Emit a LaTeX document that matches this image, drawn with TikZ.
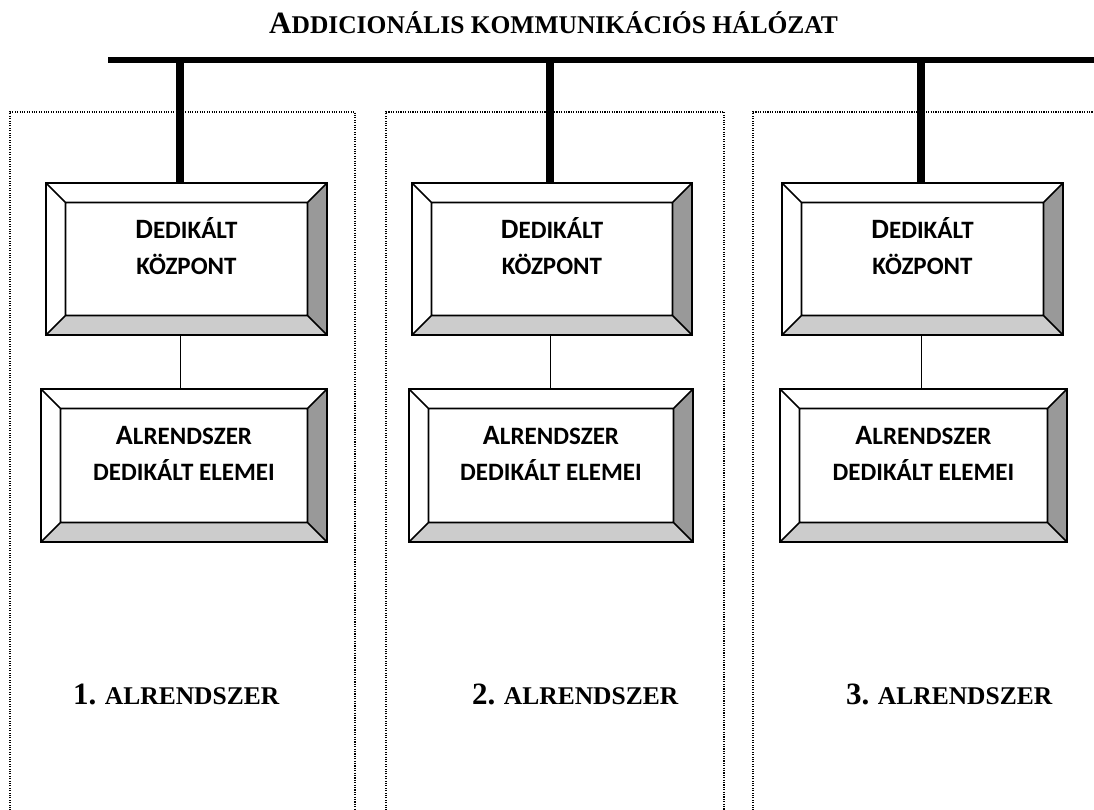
\documentclass[tikz,border=0pt]{standalone}
\usepackage{fontspec}
\setmainfont{Liberation Serif}
\newfontfamily\boxfont{Carlito}
\usetikzlibrary{calc}

% fake small capitals: first letter at full size, the rest smaller
\newcommand{\capsC}[2]{{\boxfont\bfseries\fontsize{28}{30}\selectfont #1\fontsize{25}{30}\selectfont #2}}
\newcommand{\smallC}[1]{{\boxfont\bfseries\fontsize{25}{30}\selectfont #1}}
\newcommand{\capsT}[2]{{\bfseries\fontsize{31}{33}\selectfont #1\fontsize{25.5}{30}\selectfont #2}}

\newlength{\bw}
\setlength{\bw}{19.5pt}

% bevelled box: name, left, top, right, bottom (pixel-like units, y downwards)
\newcommand{\bevelbox}[5]{%
  \node[boxbody, minimum width={(#4-#2)*1pt}, minimum height={(#5-#3)*1pt}]
    (#1) at ({(#2+#4)/2},{(#3+#5)/2}) {};
  \coordinate (#1-inw) at ([xshift=\bw,yshift=-\bw]#1.north west);
  \coordinate (#1-ine) at ([xshift=-\bw,yshift=-\bw]#1.north east);
  \coordinate (#1-ise) at ([xshift=-\bw,yshift=\bw]#1.south east);
  \coordinate (#1-isw) at ([xshift=\bw,yshift=\bw]#1.south west);
  \fill[white] (#1.north west) rectangle (#1.south east);
  \fill[bevelright] (#1.north east) -- (#1.south east) -- (#1-ise) -- (#1-ine) -- cycle;
  \fill[bevelbottom] (#1.south east) -- (#1.south west) -- (#1-isw) -- (#1-ise) -- cycle;
  \draw[bevelline] (#1.north west) rectangle (#1.south east)
    (#1-inw) rectangle (#1-ise)
    (#1.north west) -- (#1-inw) (#1.north east) -- (#1-ine)
    (#1.south east) -- (#1-ise) (#1.south west) -- (#1-isw);
}

\tikzset{
  boxbody/.style={rectangle, draw=none, inner sep=0pt, outer sep=0pt},
  bevelright/.style={fill=black!40},
  bevelbottom/.style={fill=black!20},
  bevelline/.style={draw=black, line width=1.6pt, line join=miter},
  frame/.style={draw=black, line width=1.5pt, dash pattern=on 1.1pt off 1.3pt},
  bus/.style={draw=black, line width=6pt},
  drop/.style={draw=black, line width=7.5pt},
  link/.style={draw=black, line width=1pt},
  txt/.style={inner sep=0pt, anchor=base},
  lbl/.style={inner sep=0pt, anchor=base west},
}

\begin{document}
\begin{tikzpicture}[x=1pt, y=-1pt]
  \useasboundingbox (0,0) rectangle (1094,809);
  \clip (0,0) rectangle (1094,809);

  % dotted frames of the three subsystems
  \draw[frame] (10,820) -- (10,112) -- (355,112) -- (355,820);
  \draw[frame] (386,820) -- (386,112) -- (724,112) -- (724,820);
  \draw[frame] (753,820) -- (753,112) -- (1100,112);

  % title
  \node[lbl] (title) at (269,33) {\capsT{A}{DDICIONÁLIS KOMMUNIKÁCIÓS HÁLÓZAT}};

  % communication bus
  \coordinate (busL) at (108,60);
  \coordinate (busR) at (1094,60);
  \draw[bus] (busL) -- (busR);
  \coordinate (tap1) at (180,60);
  \coordinate (tap2) at (550,60);
  \coordinate (tap3) at (921,60);

  % boxes
  \bevelbox{c1}{46}{183}{327}{335}
  \bevelbox{e1}{41}{389}{327}{542}
  \bevelbox{c2}{412}{183}{692}{335}
  \bevelbox{e2}{409}{389}{693}{542}
  \bevelbox{c3}{782}{183}{1063}{335}
  \bevelbox{e3}{780}{389}{1067}{542}

  % drops from the bus and links between the boxes
  \draw[drop] (tap1) -- (tap1 |- c1.north);
  \draw[drop] (tap2) -- (tap2 |- c2.north);
  \draw[drop] (tap3) -- (tap3 |- c3.north);
  \draw[link] (tap1 |- c1.south) -- (tap1 |- e1.north);
  \draw[link] (tap2 |- c2.south) -- (tap2 |- e2.north);
  \draw[link] (tap3 |- c3.south) -- (tap3 |- e3.north);

  % box texts
  \foreach \b in {1,2,3} {
    \node[txt] (c\b-t1) at ($(c\b.north)+(0,55)$) {\capsC{D}{EDIKÁLT}};
    \node[txt] (c\b-t2) at ($(c\b.north)+(0,91)$) {\smallC{KÖZPONT}};
    \node[txt] (e\b-t1) at ($(e\b.north)+(0,55)$) {\capsC{A}{LRENDSZER}};
    \node[txt] (e\b-t2) at ($(e\b.north)+(0,91)$) {\smallC{DEDIKÁLT ELEMEI}};
  }

  % subsystem labels
  \node[lbl] (s1) at (73,704) {\capsT{1.}{ ALRENDSZER}};
  \node[lbl] (s2) at (472,704) {\capsT{2.}{ ALRENDSZER}};
  \node[lbl] (s3) at (846,704) {\capsT{3.}{ ALRENDSZER}};
\end{tikzpicture}
\end{document}
